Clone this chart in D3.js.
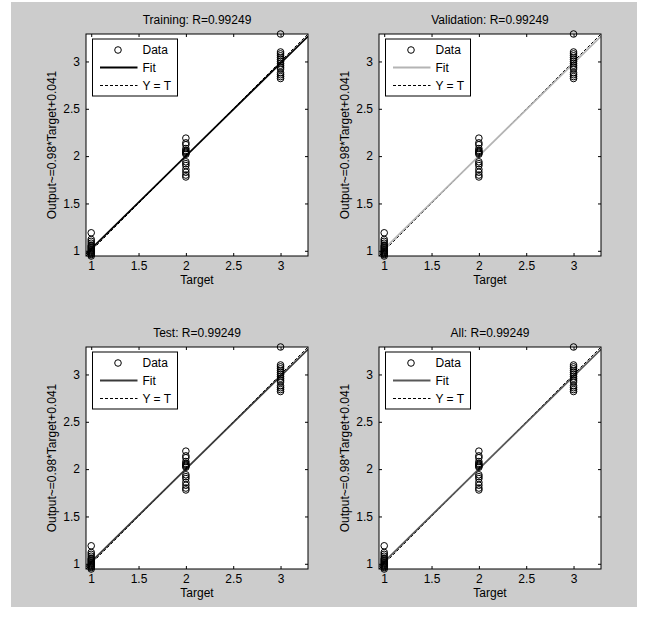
<!DOCTYPE html>
<html><head><meta charset="utf-8">
<script src="https://cdn.jsdelivr.net/npm/d3@7"></script>
<style>body{margin:0;background:#fff;}svg{display:block;font-family:"Liberation Sans",Arial,sans-serif;}</style>
</head><body>
<svg id="c" width="648" height="621"></svg>
<script>
// ---- data ----
const panelTitles = ["Training: R=0.99249", "Validation: R=0.99249", "Test: R=0.99249", "All: R=0.99249"];
const fitColors = ["#000000", "#b4b4b4", "#3a3a3a", "#585858"];
const targetClasses = [1, 2, 3];
const outputsT1 = [1.19, 1.12, 1.10, 1.08, 1.06, 1.05, 1.04, 1.03, 1.02, 1.01, 1.00, 0.99, 0.98, 0.97, 0.96, 0.945];
const outputsT2 = [2.19, 2.14, 2.12, 2.08, 2.06, 2.05, 2.04, 2.03, 2.02, 1.94, 1.92, 1.90, 1.86, 1.83, 1.80, 1.78];
const outputsT3 = [3.29, 3.10, 3.08, 3.06, 3.04, 3.02, 3.00, 2.98, 2.96, 2.94, 2.92, 2.88, 2.86, 2.84, 2.82];
const fitSlope = 0.98, fitIntercept = 0.041;
const axisLim = [0.945, 3.29];
const tickValues = [1, 1.5, 2, 2.5, 3];
const legendLabels = ["Data", "Fit", "Y = T"];
const yLabel = "Output~=0.98*Target+0.041";
const xLabel = "Target";

const points = [];
[outputsT1, outputsT2, outputsT3].forEach((arr, i) => arr.forEach(v => points.push({t: targetClasses[i], y: v})));

const FS = 12;
const svg = d3.select("#c");
svg.append("rect").attr("x", 11).attr("y", 2).attr("width", 626).attr("height", 605).attr("fill", "#cccccc");

const W = 222, H = 222;
const origins = [[86, 34], [379, 34], [86, 347], [379, 347]];

origins.forEach((o, pi) => {
  const g = svg.append("g").attr("transform", `translate(${o[0]},${o[1]})`);
  const x = d3.scaleLinear().domain(axisLim).range([0, W]);
  const y = d3.scaleLinear().domain(axisLim).range([H, 0]);

  g.append("rect").attr("width", W).attr("height", H).attr("fill", "#fff");

  const cid = "clip" + pi;
  g.append("clipPath").attr("id", cid).append("rect").attr("width", W).attr("height", H);
  const plot = g.append("g").attr("clip-path", `url(#${cid})`);

  // Y = T dashed
  plot.append("line")
    .attr("x1", x(axisLim[0])).attr("y1", y(axisLim[0]))
    .attr("x2", x(axisLim[1])).attr("y2", y(axisLim[1]))
    .attr("stroke", "#000").attr("stroke-width", 1).attr("stroke-dasharray", "3,2");
  // fit line
  plot.append("line")
    .attr("x1", x(axisLim[0])).attr("y1", y(fitSlope * axisLim[0] + fitIntercept))
    .attr("x2", x(axisLim[1])).attr("y2", y(fitSlope * axisLim[1] + fitIntercept))
    .attr("stroke", fitColors[pi]).attr("stroke-width", 1.8);
  // data circles
  g.append("g").selectAll("circle").data(points).join("circle")
    .attr("cx", d => x(d.t)).attr("cy", d => y(d.y)).attr("r", 3.3)
    .attr("fill", "none").attr("stroke", "#000").attr("stroke-width", 1);

  // box
  g.append("rect").attr("width", W).attr("height", H).attr("fill", "none").attr("stroke", "#000").attr("stroke-width", 1);

  // axes (ticks inside, mirrored)
  const tk = 3;
  const xb = g.append("g").attr("transform", `translate(0,${H})`)
    .call(d3.axisBottom(x).tickValues(tickValues).tickSizeInner(-tk).tickSizeOuter(0).tickPadding(5).tickFormat(d3.format("")));
  const xt = g.append("g").call(d3.axisTop(x).tickValues(tickValues).tickSizeInner(-tk).tickSizeOuter(0).tickFormat(""));
  const yl = g.append("g").call(d3.axisLeft(y).tickValues(tickValues).tickSizeInner(-tk).tickSizeOuter(0).tickPadding(6).tickFormat(d3.format("")));
  const yr = g.append("g").attr("transform", `translate(${W},0)`)
    .call(d3.axisRight(y).tickValues(tickValues).tickSizeInner(-tk).tickSizeOuter(0).tickFormat(""));
  [xb, xt, yl, yr].forEach(a => {
    a.select(".domain").remove();
    a.selectAll("line").attr("stroke", "#000");
    a.selectAll("text").attr("fill", "#000").attr("font-size", FS).attr("font-family", '"Liberation Sans",Arial,sans-serif');
  });

  // labels
  g.append("text").attr("x", W / 2).attr("y", -10.5).attr("text-anchor", "middle")
    .attr("font-size", FS).text(panelTitles[pi]);
  g.append("text").attr("x", W / 2).attr("y", H + 28).attr("text-anchor", "middle")
    .attr("font-size", FS).text(xLabel);
  g.append("text").attr("transform", `translate(-30,${H / 2}) rotate(-90)`).attr("text-anchor", "middle")
    .attr("font-size", FS).text(yLabel);

  // legend
  const lg = g.append("g").attr("transform", "translate(6.5,5)");
  lg.append("rect").attr("width", 85).attr("height", 57).attr("fill", "#fff").attr("stroke", "#000").attr("stroke-width", 1);
  lg.append("circle").attr("cx", 25.5).attr("cy", 11).attr("r", 3.3).attr("fill", "none").attr("stroke", "#000");
  lg.append("line").attr("x1", 7.5).attr("x2", 45).attr("y1", 28.5).attr("y2", 28.5).attr("stroke", fitColors[pi]).attr("stroke-width", 2);
  lg.append("line").attr("x1", 7.5).attr("x2", 45).attr("y1", 46.5).attr("y2", 46.5).attr("stroke", "#000").attr("stroke-dasharray", "3,2");
  legendLabels.forEach((t, i) => {
    lg.append("text").attr("x", 50).attr("y", [11, 28.5, 46.5][i]).attr("dy", "0.36em")
      .attr("font-size", FS).text(t);
  });
});
</script>
</body></html>
